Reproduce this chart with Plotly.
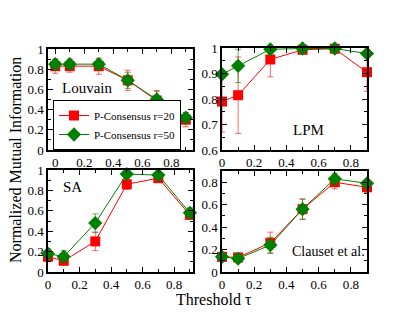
import plotly.graph_objects as go

# thresholds
tau = [0, 0.1, 0.3, 0.5, 0.7, 0.9]

# Louvain
louv_r20 = [0.83, 0.83, 0.83, 0.69, 0.49, 0.30]
louv_r20_err = [0.07, 0.06, 0.08, 0.10, 0.10, 0.07]
louv_r50 = [0.85, 0.85, 0.85, 0.69, 0.50, 0.32]
louv_r50_err = [0.05, 0.05, 0.05, 0.08, 0.08, 0.05]

# LPM
lpm_r20 = [0.79, 0.815, 0.955, 0.993, 0.997, 0.905]
lpm_r20_err = [0.12, 0.15, 0.068, 0.01, 0.01, 0.075]
lpm_r50 = [0.897, 0.93, 0.995, 0.998, 0.998, 0.978]
lpm_r50_err = [0.01, 0.065, 0.01, 0.005, 0.005, 0.01]

# SA
sa_r20 = [0.15, 0.11, 0.30, 0.86, 0.92, 0.56]
sa_r20_err = [0.04, 0.04, 0.09, 0.05, 0.03, 0.04]
sa_r50 = [0.18, 0.15, 0.48, 0.96, 0.95, 0.58]
sa_r50_err = [0.05, 0.06, 0.09, 0.03, 0.03, 0.05]

# Clauset et al.
cl_r20 = [0.135, 0.13, 0.26, 0.56, 0.80, 0.755]
cl_r20_err = [0.03, 0.03, 0.095, 0.09, 0.06, 0.05]
cl_r50 = [0.135, 0.12, 0.24, 0.56, 0.83, 0.79]
cl_r50_err = [0.03, 0.03, 0.07, 0.09, 0.05, 0.03]

RED = '#ff0000'
GREEN = '#008000'
FONT = 'Liberation Serif, Times New Roman, serif'

panels = [
    # (r20, r20err, r50, r50err, xaxis, yaxis)
    (louv_r20, louv_r20_err, louv_r50, louv_r50_err, 'x', 'y'),
    (lpm_r20, lpm_r20_err, lpm_r50, lpm_r50_err, 'x2', 'y2'),
    (sa_r20, sa_r20_err, sa_r50, sa_r50_err, 'x3', 'y3'),
    (cl_r20, cl_r20_err, cl_r50, cl_r50_err, 'x4', 'y4'),
]

fig = go.Figure()
for i, (r20, e20, r50, e50, xa, ya) in enumerate(panels):
    fig.add_trace(go.Scatter(
        x=tau, y=r20, xaxis=xa, yaxis=ya,
        mode='lines+markers', name='P-Consensus r=20',
        showlegend=(i == 0),
        line=dict(color=RED, width=1),
        marker=dict(symbol='square', size=10, color=RED),
        error_y=dict(type='data', array=e20, color='rgba(255,0,0,0.6)',
                     thickness=1, width=3),
        cliponaxis=False))
    fig.add_trace(go.Scatter(
        x=tau, y=r50, xaxis=xa, yaxis=ya,
        mode='lines+markers', name='P-Consensus r=50',
        showlegend=(i == 0),
        line=dict(color=GREEN, width=1),
        marker=dict(symbol='diamond', size=11, color=GREEN),
        error_y=dict(type='data', array=e50, color='rgba(0,128,0,0.6)',
                     thickness=1, width=3),
        cliponaxis=False))

W, H = 415, 321
def xd(a, b):
    return [a / W, b / W]
def yd(top, bot):
    return [1 - bot / H, 1 - top / H]

def ax(domain, rng, dtick, anchor, minor_dtick):
    return dict(
        domain=domain, range=rng, anchor=anchor, dtick=dtick,
        automargin=False,
        ticks='inside', ticklen=5, tickwidth=1, tickcolor='black',
        mirror='allticks', showline=True, linecolor='black', linewidth=1.5,
        showgrid=False, zeroline=False,
        minor=dict(dtick=minor_dtick, ticks='inside', ticklen=3,
                   tickcolor='black', showgrid=False),
        tickfont=dict(family=FONT, size=13, color='black'),
    )

def label(text, px, py, size, angle=0):
    return dict(text=text, x=px / W, y=1 - py / H, xref='paper', yref='paper',
                xanchor='center', yanchor='middle', textangle=angle,
                showarrow=False, font=dict(family=FONT, size=size, color='black'))

layout = dict(
    width=W, height=H,
    margin=dict(l=0, r=0, t=0, b=0, autoexpand=False),
    plot_bgcolor='white', paper_bgcolor='white',
    font=dict(family=FONT, color='black'),
    xaxis=ax(xd(48, 193), [-0.05, 0.95], 0.2, 'y', 0.1),
    yaxis=ax(yd(49, 150), [0, 1], 0.2, 'x', 0.1),
    xaxis2=ax(xd(222, 367), [0, 0.9], 0.2, 'y2', 0.1),
    yaxis2=ax(yd(48, 150), [0.6, 1], 0.1, 'x2', 0.05),
    xaxis3=ax(xd(48, 193), [0, 0.92], 0.2, 'y3', 0.1),
    yaxis3=ax(yd(170, 272), [0, 1], 0.2, 'x3', 0.1),
    xaxis4=ax(xd(222, 367), [0, 0.9], 0.2, 'y4', 0.1),
    yaxis4=ax(yd(171, 272), [0, 0.9], 0.2, 'x4', 0.1),
    legend=dict(
        x=53 / W, y=1 - 150 / H, xanchor='left', yanchor='bottom',
        bgcolor='white', bordercolor='black', borderwidth=1,
        font=dict(family=FONT, size=11, color='black'),
        tracegroupgap=0, itemwidth=30),
    annotations=[
        label('Louvain', 87, 88, 15),
        label('LPM', 308, 130, 15),
        label('SA', 72, 187, 15),
        label('Clauset et al.', 328, 251, 14),
        label('Normalized Mutual Information', 15, 160, 16, angle=-90),
        label('Threshold τ', 214, 299, 16),
    ],
)
fig.update_layout(**layout)

# drop the default 8px page margin so the figure sits at the window origin
fig.write_html("out.html", config={'displayModeBar': False},
               post_script="document.body.style.margin='0';")
